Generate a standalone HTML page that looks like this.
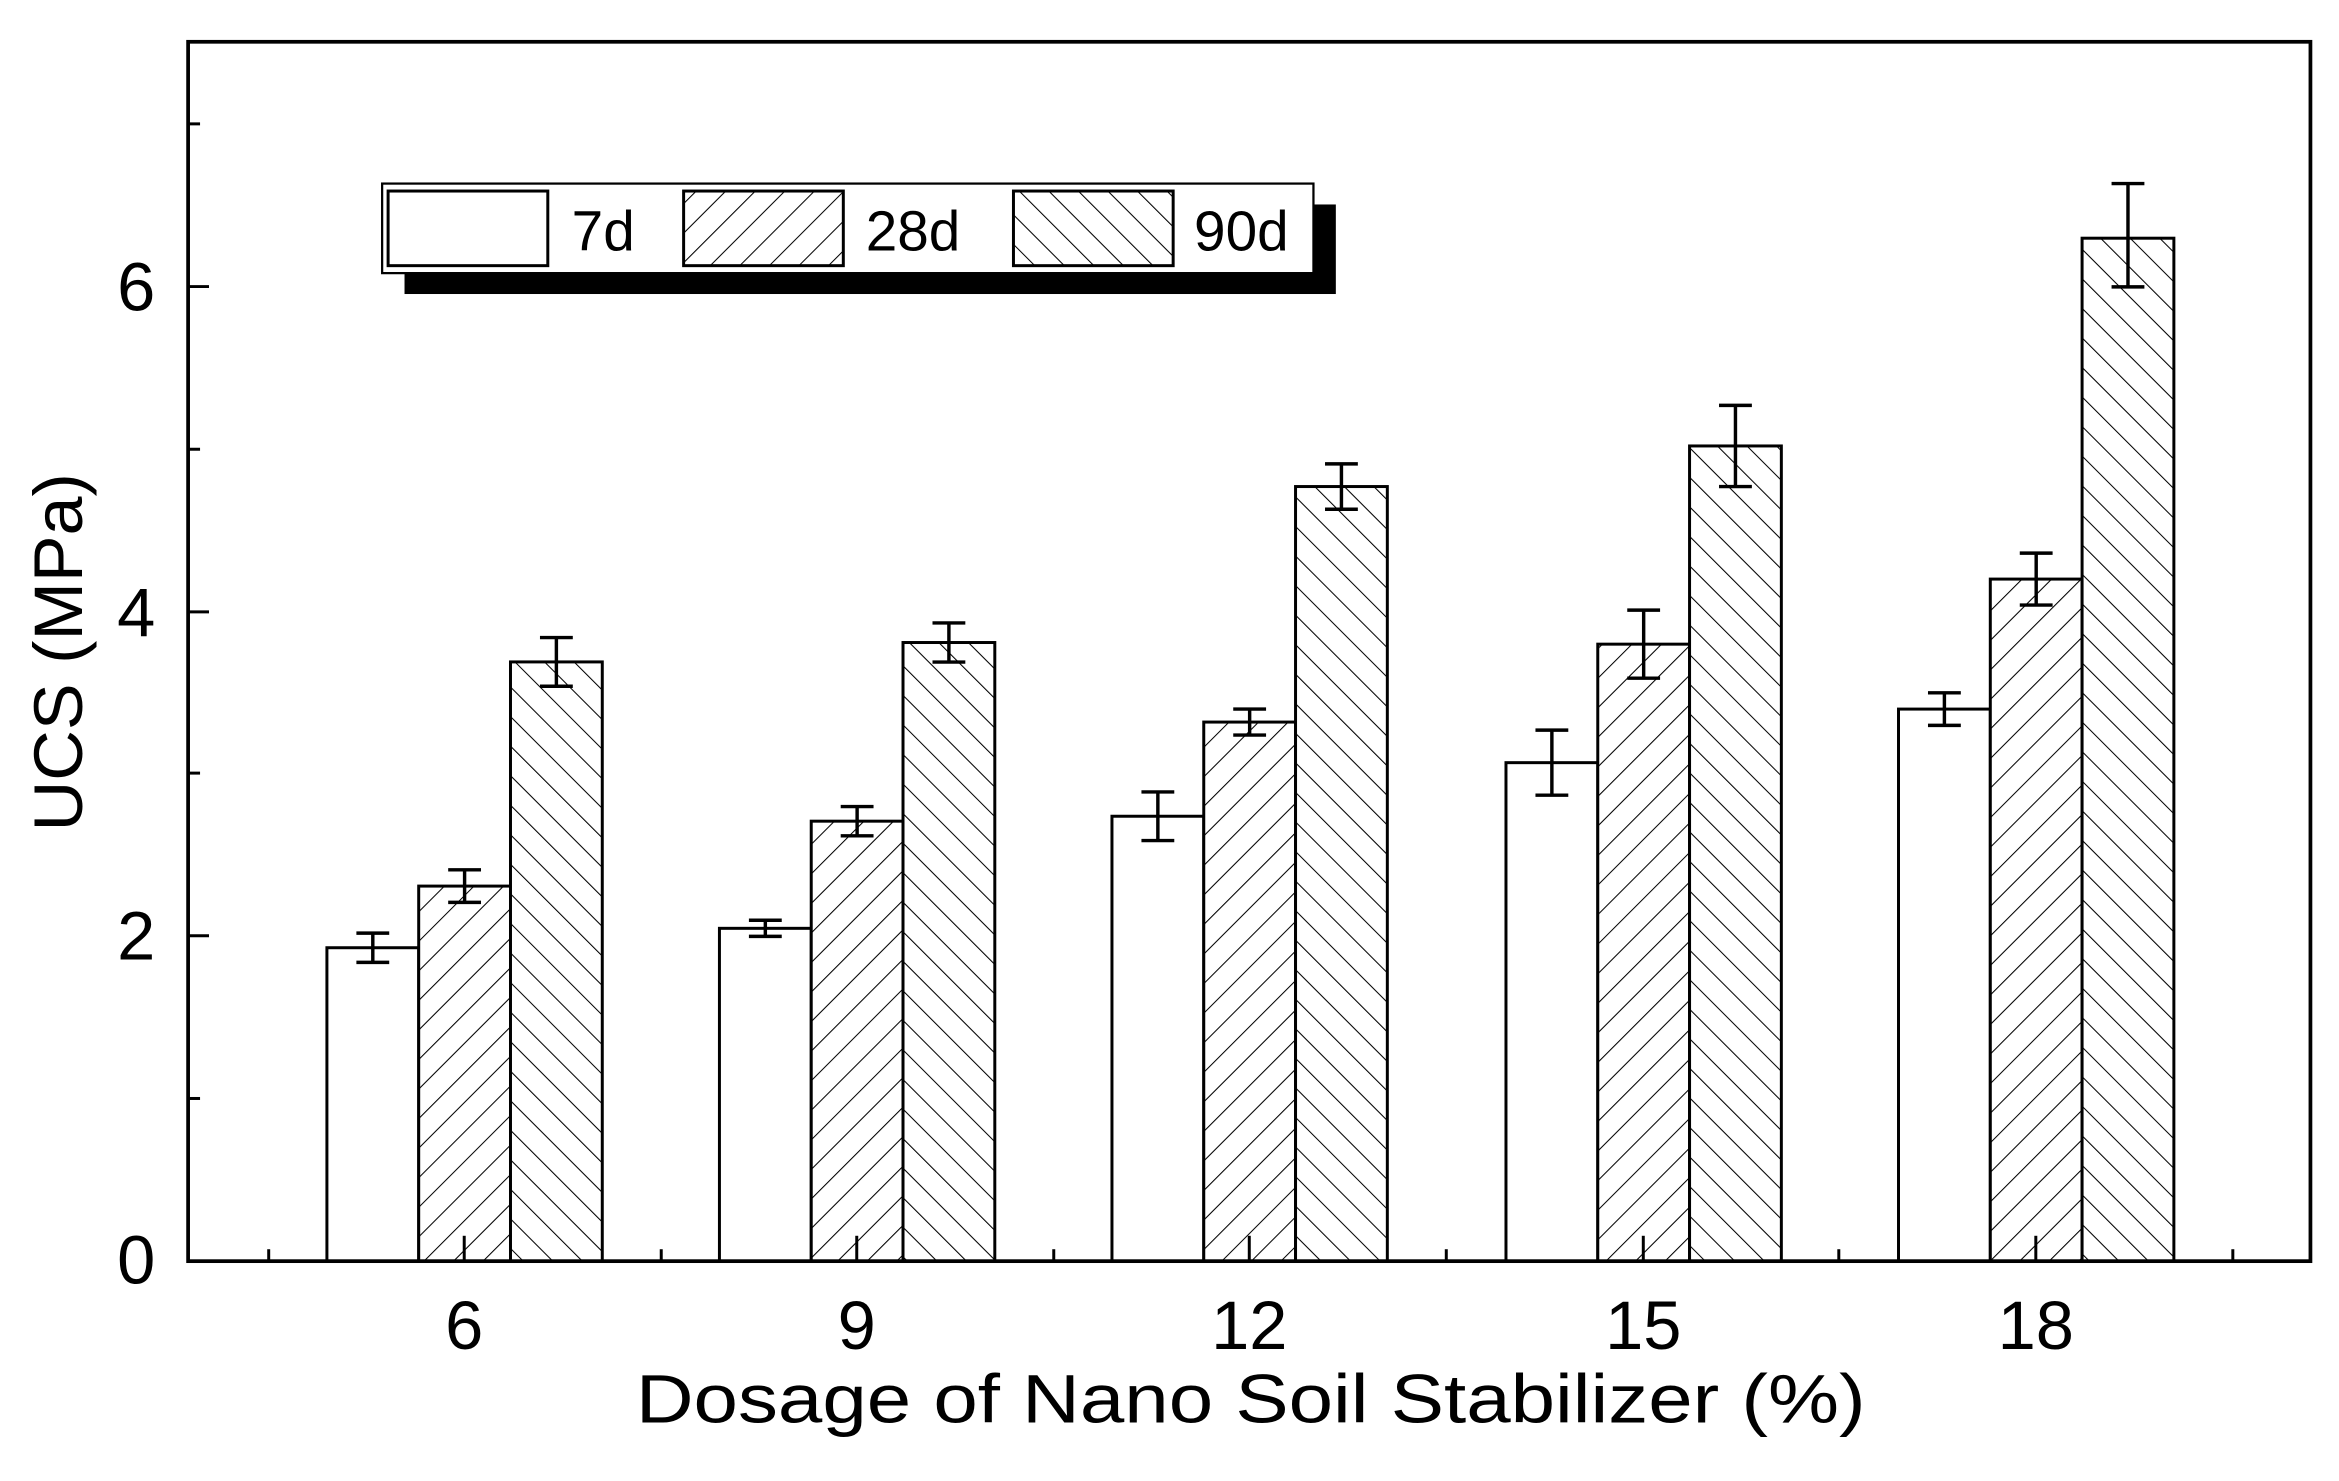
<!DOCTYPE html>
<html><head><meta charset="utf-8"><style>html,body{margin:0;padding:0;background:#fff}svg{display:block}</style></head>
<body>
<svg width="2339" height="1481" viewBox="0 0 1567.1 992.3" xmlns="http://www.w3.org/2000/svg" font-family="Liberation Sans, DejaVu Sans, sans-serif">
<defs>
<pattern id="p28" patternUnits="userSpaceOnUse" width="14" height="14" patternTransform="rotate(45)">
<rect width="14" height="14" fill="#fff"/><line x1="0" y1="0" x2="0" y2="14" stroke="#000" stroke-width="1.4"/></pattern>
<pattern id="p90" patternUnits="userSpaceOnUse" width="14" height="14" patternTransform="rotate(-45)">
<rect width="14" height="14" fill="#fff"/><line x1="0" y1="0" x2="0" y2="14" stroke="#000" stroke-width="1.4"/></pattern>
</defs>
<rect width="1567.1" height="992.3" fill="#fff"/>
<g stroke="#000" stroke-width="2">
<rect x="219" y="635.0" width="61.5" height="210.0" fill="#fff"/>
<rect x="280.5" y="593.7" width="61.5" height="251.3" fill="url(#p28)"/>
<rect x="342" y="443.5" width="61.5" height="401.5" fill="url(#p90)"/>
<rect x="482" y="622.0" width="61.5" height="223.0" fill="#fff"/>
<rect x="543.5" y="550.2" width="61.5" height="294.8" fill="url(#p28)"/>
<rect x="605" y="430.5" width="61.5" height="414.5" fill="url(#p90)"/>
<rect x="745" y="546.9" width="61.5" height="298.1" fill="#fff"/>
<rect x="806.5" y="483.8" width="61.5" height="361.2" fill="url(#p28)"/>
<rect x="868" y="326.0" width="61.5" height="519.0" fill="url(#p90)"/>
<rect x="1009" y="511.0" width="61.5" height="334.0" fill="#fff"/>
<rect x="1070.5" y="431.6" width="61.5" height="413.4" fill="url(#p28)"/>
<rect x="1132" y="298.8" width="61.5" height="546.2" fill="url(#p90)"/>
<rect x="1272" y="475.1" width="61.5" height="369.9" fill="#fff"/>
<rect x="1333.5" y="388.0" width="61.5" height="457.0" fill="url(#p28)"/>
<rect x="1395" y="159.6" width="61.5" height="685.4" fill="url(#p90)"/>
<path fill="none" stroke-width="2.3" d="
M238.75 625.2H260.75M249.75 625.2V644.8M238.75 644.8H260.75
M300.25 582.8H322.25M311.25 582.8V604.6M300.25 604.6H322.25
M361.75 427.2H383.75M372.75 427.2V459.8M361.75 459.8H383.75
M501.75 616.6H523.75M512.75 616.6V627.4M501.75 627.4H523.75
M563.25 540.4H585.25M574.25 540.4V560.0M563.25 560.0H585.25
M624.75 417.4H646.75M635.75 417.4V443.6M624.75 443.6H646.75
M764.75 530.6H786.75M775.75 530.6V563.2M764.75 563.2H786.75
M826.25 475.1H848.25M837.25 475.1V492.5M826.25 492.5H848.25
M887.75 310.8H909.75M898.75 310.8V341.2M887.75 341.2H909.75
M1028.75 489.2H1050.75M1039.75 489.2V532.8M1028.75 532.8H1050.75
M1090.25 408.8H1112.25M1101.25 408.8V454.4M1090.25 454.4H1112.25
M1151.75 271.6H1173.75M1162.75 271.6V326.0M1151.75 326.0H1173.75
M1291.75 464.2H1313.75M1302.75 464.2V486.0M1291.75 486.0H1313.75
M1353.25 370.6H1375.25M1364.25 370.6V405.4M1353.25 405.4H1375.25
M1414.75 123.0H1436.75M1425.75 123.0V192.2M1414.75 192.2H1436.75"/>
</g>
<rect x="126" y="28" width="1422" height="817" fill="none" stroke="#000" stroke-width="2.5"/>
<g stroke="#000" stroke-width="2">
<line x1="126" y1="627" x2="140" y2="627"/><line x1="126" y1="410" x2="140" y2="410"/><line x1="126" y1="192" x2="140" y2="192"/>
<line x1="126" y1="736" x2="134" y2="736"/><line x1="126" y1="518" x2="134" y2="518"/><line x1="126" y1="301" x2="134" y2="301"/><line x1="126" y1="83" x2="134" y2="83"/>
<line x1="180" y1="845" x2="180" y2="837"/><line x1="443" y1="845" x2="443" y2="837"/><line x1="706" y1="845" x2="706" y2="837"/><line x1="969" y1="845" x2="969" y2="837"/><line x1="1232" y1="845" x2="1232" y2="837"/><line x1="1496" y1="845" x2="1496" y2="837"/>
<line x1="311" y1="845" x2="311" y2="828"/><line x1="574" y1="845" x2="574" y2="828"/><line x1="837" y1="845" x2="837" y2="828"/><line x1="1101" y1="845" x2="1101" y2="828"/><line x1="1364" y1="845" x2="1364" y2="828"/>
</g>
<g font-size="46" text-anchor="end">
<text x="104" y="860">0</text><text x="104" y="643">2</text><text x="104" y="426">4</text><text x="104" y="208">6</text>
</g>
<g font-size="46" text-anchor="middle">
<text x="311" y="904">6</text><text x="574" y="904">9</text><text x="837" y="904">12</text><text x="1101" y="904">15</text><text x="1364" y="904">18</text>
<text x="838" y="953" textLength="824" lengthAdjust="spacingAndGlyphs">Dosage of Nano Soil Stabilizer (%)</text>
<text transform="translate(55,437) rotate(-90)" textLength="240" lengthAdjust="spacingAndGlyphs">UCS (MPa)</text>
</g>
<rect x="271" y="137" width="624" height="60" fill="#000"/>
<rect x="256" y="123" width="624" height="60" fill="#fff" stroke="#000" stroke-width="1.5"/>
<rect x="260" y="128" width="107" height="50" fill="#fff" stroke="#000" stroke-width="2"/>
<rect x="458" y="128" width="107" height="50" fill="url(#p28)" stroke="#000" stroke-width="2"/>
<rect x="679" y="128" width="107" height="50" fill="url(#p90)" stroke="#000" stroke-width="2"/>
<g font-size="38"><text x="383" y="168">7d</text><text x="580" y="168">28d</text><text x="800" y="168">90d</text></g>
</svg>
</body></html>
